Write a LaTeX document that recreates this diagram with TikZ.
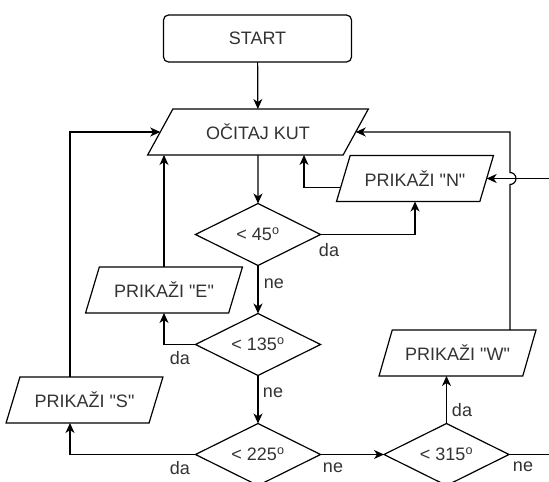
\documentclass[tikz,border=0pt]{standalone}
\usepackage{fontspec}
\setmainfont{Liberation Sans}[Ligatures=TeXOff]
\usetikzlibrary{shapes.geometric, arrows.meta, positioning, calc}

\begin{document}
\begin{tikzpicture}[
    x=1pt, y=-1pt,
    >={Stealth[length=10pt, width=9pt, inset=3pt]},
    font=\fontsize{18}{21}\selectfont,
    term/.style={rectangle, rounded corners=5pt, draw=black, line width=1.2pt, fill=white, minimum width=188pt, minimum height=47pt, inner sep=0pt, outer sep=0pt, text=black!80},
    io/.style={trapezium, trapezium left angle=56, trapezium right angle=124, trapezium stretches=true, draw=black, line width=1.2pt, fill=white, minimum width=157pt, minimum height=46pt, inner sep=0pt, outer sep=0pt, text=black!80},
    cond/.style={diamond, aspect=2, draw=black, line width=1.2pt, fill=white, minimum width=125pt, minimum height=62pt, inner sep=0pt, outer sep=0pt, text=black!80},
    lbl/.style={inner sep=0pt, text=black!80},
    arrow/.style={->, line width=1.2pt}
]

\path[use as bounding box] (0,0) rectangle (549,482);
\clip (0,0) rectangle (549,482);
\fill[white] (0,0) rectangle (549,482);

% Main column
\node[term] (start) at (257.5,38.5) {START};
\node[io, trapezium left angle=46, trapezium right angle=134, minimum width=221pt] (kut) at (258,132) {OČITAJ KUT};
\node[cond] (d45) at (258,234.5) {< 45\textsuperscript{o}};
\node[cond] (d135) at (258,344.5) {< 135\textsuperscript{o}};
\node[cond] (d225) at (258,454.5) {< 225\textsuperscript{o}};
\node[cond] (d315) at (446.5,454.5) {< 315\textsuperscript{o}};

% Outputs
\node[io] (pN) at (415,178.5) {PRIKAŽI "N"};
\node[io] (pE) at (164,290) {PRIKAŽI "E"};
\node[io] (pS) at (84.5,400) {PRIKAŽI "S"};
\node[io] (pW) at (457.5,353) {PRIKAŽI "W"};

% Helper points
\coordinate (nLeft) at ($(pN.top left corner)!0.7!(pN.bottom left corner)$);
\coordinate (sTop) at ([xshift=-14.5pt]pS.north);
\coordinate (sBot) at ([xshift=-14.5pt]pS.south);
\coordinate (wTop) at ([xshift=52.5pt]pW.north);
\coordinate (hop) at (wTop |- pN.east);
\coordinate (inN) at ([xshift=80pt]pN.east);
\coordinate (outR) at ([xshift=50pt]d315.east);

% Arrows
\draw[arrow] (start) -- (kut);
\draw[arrow] (kut) -- (d45);
\draw[arrow] (d45.east) -| (pN.south);
\draw[arrow] (nLeft) -| ([xshift=46pt]kut.south);
\draw[arrow] (d45) -- (d135);
\draw[arrow] (d135.west) -| (pE.south);
\draw[arrow] (pE.north) -- (pE.north |- kut.south);
\draw[arrow] (d135) -- (d225);
\draw[arrow] (d225.west) -| (sBot);
\draw[arrow] (sTop) |- (kut.west);
\draw[arrow] (d225) -- (d315);
\draw[arrow] (d315.north) -- (d315.north |- pW.south);
\draw[arrow] (wTop) -- ([yshift=-6pt]hop) arc[start angle=-90, end angle=90, radius=6pt] |- (kut.east);
\draw[arrow] (inN) -- (pN.east);
\draw[line width=1.2pt] (d315.east) -- (outR);

% Branch labels
\node[lbl] (da1) at (329,250) {da};
\node[lbl] (ne1) at (274,284) {ne};
\node[lbl] (da2) at (180,358) {da};
\node[lbl] (ne2) at (273,393) {ne};
\node[lbl] (da3) at (180,468) {da};
\node[lbl] (ne3) at (333,468) {ne};
\node[lbl] (da4) at (462,410) {da};
\node[lbl] (ne4) at (523,467) {ne};

\end{tikzpicture}
\end{document}
